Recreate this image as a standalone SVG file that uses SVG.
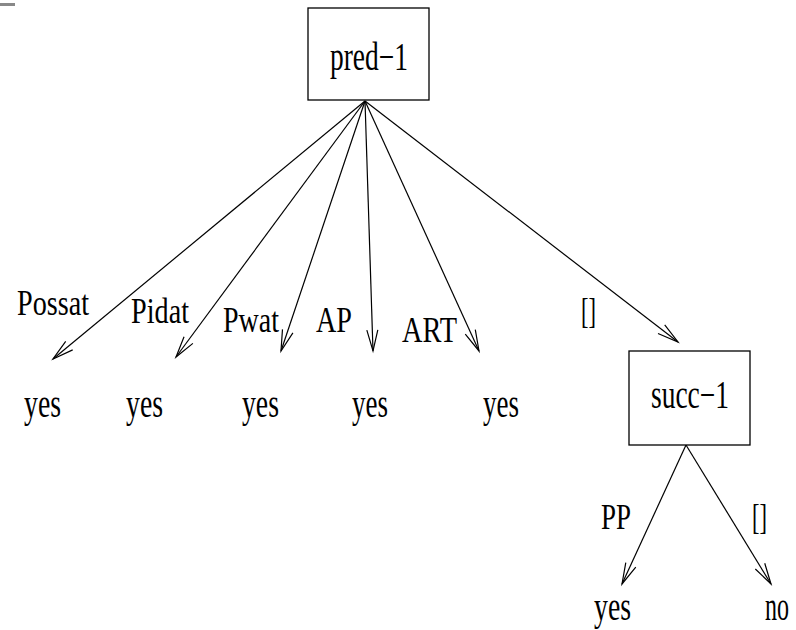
<svg xmlns="http://www.w3.org/2000/svg" width="796" height="630" viewBox="0 0 796 630">
<style>
text{font-family:"Liberation Serif","Times New Roman",serif;font-size:35px;fill:#000}
.big{font-size:39px}
.box{fill:#fff;stroke:#000;stroke-width:1.3}
.edge{stroke:#000;stroke-width:1.2;fill:none}
</style>
<defs>
<marker id="arr" markerUnits="userSpaceOnUse" markerWidth="30" markerHeight="20" viewBox="-22 -10 24 20" refX="0" refY="0" orient="auto">
<path d="M-21,-5.5 L0,0 L-21,5.5" fill="none" stroke="#000" stroke-width="1.2"/>
</marker>
</defs>
<rect x="0" y="3" width="15" height="3" fill="#888"/>
<g id="connectors">
<line class="edge" x1="365" y1="101" x2="53" y2="359" marker-end="url(#arr)"/>
<line class="edge" x1="365" y1="101" x2="176" y2="357" marker-end="url(#arr)"/>
<line class="edge" x1="365" y1="101" x2="281" y2="351" marker-end="url(#arr)"/>
<line class="edge" x1="365" y1="101" x2="373" y2="351" marker-end="url(#arr)"/>
<line class="edge" x1="365" y1="101" x2="479" y2="351" marker-end="url(#arr)"/>
<line class="edge" x1="365" y1="101" x2="678" y2="342" marker-end="url(#arr)"/>
<line class="edge" x1="686" y1="445" x2="622" y2="584" marker-end="url(#arr)"/>
<line class="edge" x1="686" y1="445" x2="771" y2="584" marker-end="url(#arr)"/>
<text x="17" y="315" textLength="72" lengthAdjust="spacingAndGlyphs">Possat</text>
<text x="131" y="323" textLength="58" lengthAdjust="spacingAndGlyphs">Pidat</text>
<text x="223" y="332" textLength="56" lengthAdjust="spacingAndGlyphs">Pwat</text>
<text x="316" y="332" textLength="36" lengthAdjust="spacingAndGlyphs">AP</text>
<text x="402" y="342" textLength="55" lengthAdjust="spacingAndGlyphs">ART</text>
<text x="581" y="323" textLength="15" lengthAdjust="spacingAndGlyphs">[]</text>
<text x="601" y="529" textLength="30" lengthAdjust="spacingAndGlyphs">PP</text>
<text x="752" y="529" textLength="15" lengthAdjust="spacingAndGlyphs">[]</text>
</g>
<g id="pred-1">
<rect class="box" x="308" y="8" width="121" height="92"/>
<text class="big" x="330" y="70" textLength="78" lengthAdjust="spacingAndGlyphs">pred−1</text>
</g>
<g id="succ-1">
<rect class="box" x="629" y="351" width="121" height="94"/>
<text class="big" x="651" y="408" textLength="78" lengthAdjust="spacingAndGlyphs">succ−1</text>
</g>
<g id="yes1"><text class="big" x="24" y="417" textLength="37" lengthAdjust="spacingAndGlyphs">yes</text></g>
<g id="yes2"><text class="big" x="126" y="417" textLength="37" lengthAdjust="spacingAndGlyphs">yes</text></g>
<g id="yes3"><text class="big" x="242" y="417" textLength="37" lengthAdjust="spacingAndGlyphs">yes</text></g>
<g id="yes4"><text class="big" x="352" y="417" textLength="36" lengthAdjust="spacingAndGlyphs">yes</text></g>
<g id="yes5"><text class="big" x="483" y="417" textLength="36" lengthAdjust="spacingAndGlyphs">yes</text></g>
<g id="yes6"><text class="big" x="594" y="620" textLength="37" lengthAdjust="spacingAndGlyphs">yes</text></g>
<g id="no"><text class="big" x="765" y="620" textLength="24" lengthAdjust="spacingAndGlyphs">no</text></g>
</svg>
